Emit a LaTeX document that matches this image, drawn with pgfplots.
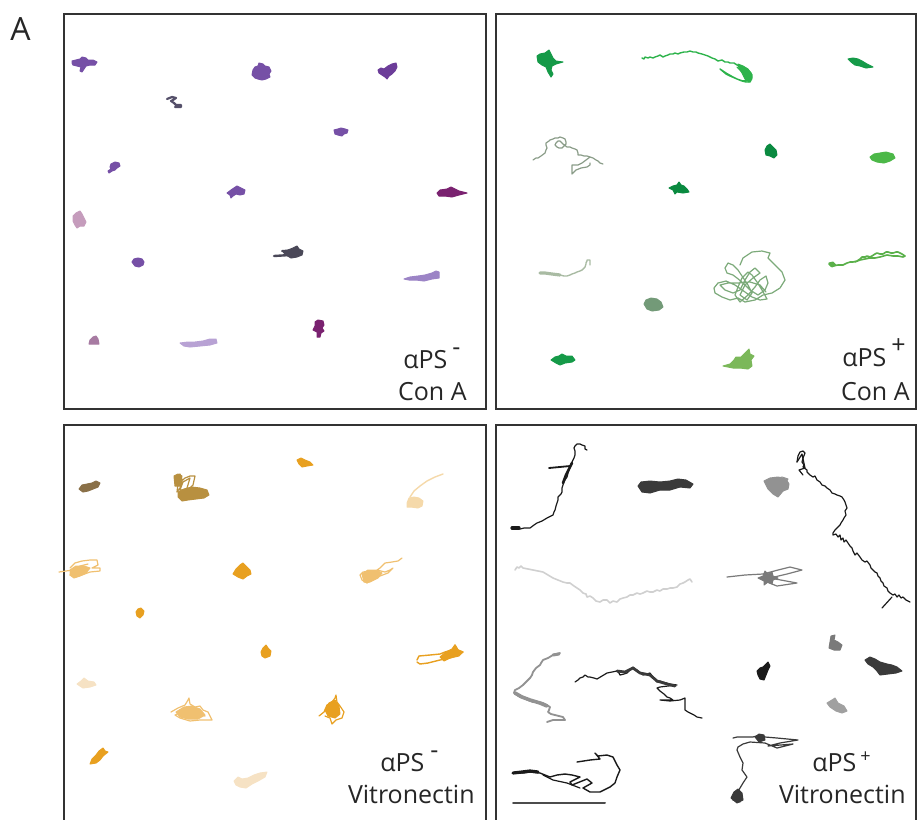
\documentclass[border=0pt]{standalone}
\usepackage{pgfplots}
\pgfplotsset{compat=1.18}
\usepackage{fontspec}
\setmainfont{Open Sans}
% colours
\definecolor{pm}{HTML}{7650A6}
\definecolor{pd}{HTML}{6C3D99}
\definecolor{pg}{HTML}{55506A}
\definecolor{mg}{HTML}{7A2270}
\definecolor{pk}{HTML}{C59CBC}
\definecolor{dg}{HTML}{4A4858}
\definecolor{ll}{HTML}{9C84C6}
\definecolor{mv}{HTML}{A77BA2}
\definecolor{lx}{HTML}{B8A2D4}
\definecolor{gd}{HTML}{159A48}
\definecolor{gb}{HTML}{2DB34B}
\definecolor{gg}{HTML}{8A9C88}
\definecolor{gk}{HTML}{0A8A40}
\definecolor{gm}{HTML}{4CB848}
\definecolor{gl}{HTML}{A9BBA3}
\definecolor{gt}{HTML}{7CAA7A}
\definecolor{gn}{HTML}{5AB04A}
\definecolor{gs}{HTML}{739A78}
\definecolor{gy}{HTML}{7BB85A}
\definecolor{ob}{HTML}{8A7048}
\definecolor{ot}{HTML}{B89040}
\definecolor{oo}{HTML}{E8A020}
\definecolor{op}{HTML}{F5D9AA}
\definecolor{ol}{HTML}{F0C070}
\definecolor{ov}{HTML}{F6E2C4}
\definecolor{k1}{HTML}{1A1A1A}
\definecolor{k2}{HTML}{3A3A3A}
\definecolor{k3}{HTML}{929292}
\definecolor{k4}{HTML}{D0D0D0}
\definecolor{k5}{HTML}{7A7A7A}
\definecolor{k6}{HTML}{A0A0A0}
\newcommand{\trk}[3][0.5pt]{\addplot[line width=#1,color=#2,mark=none,line join=round,line cap=round] coordinates {#3};}
\newcommand{\blob}[2]{\addplot[fill=#1,draw=#1,line width=0.5pt,mark=none,line join=round] coordinates {#2} -- cycle;}
\pgfplotsset{panel/.style={scale only axis, y dir=reverse, xtick=\empty, ytick=\empty,
  axis line style={draw=black!80, line width=0.6pt}, anchor=north west, clip=false}}
\tikzset{lab/.style={font=\fontsize{12.5}{15}\selectfont, inner sep=0pt, text=black!85}}
\begin{document}
\begin{tikzpicture}
\path[use as bounding box, clip] (0,0) rectangle (458.5pt,-410pt);
\node[anchor=base west, inner sep=0pt, font=\fontsize{16}{18}\selectfont, text=black!85] at (5pt,-20pt) {A};
% ---------------- panel 1 ----------------
\begin{axis}[panel, at={(32pt,-7pt)}, width=211pt, height=197.5pt, xmin=64, xmax=486, ymin=14, ymax=409]
\blob{pm}{(72,61)(76,60)(80,59)(82,57)(86,58)(88,60)(93,60)(97,62)(95,65)(90,65)(86,66)(84,69)(82,72)(80,71)(81,67)(77,66)(73,65)(72,63)}
\blob{pm}{(253,70)(255,67)(258,66)(259,63)(263,64)(265,66)(269,67)(271,71)(269,74)(270,77)(266,79)(262,80)(258,79)(255,78)(252,75)}
\blob{pd}{(378,70)(381,68)(384,69)(388,66)(392,64)(396,63)(397,67)(395,71)(392,74)(389,76)(387,79)(385,77)(382,75)(379,73)}
\trk[1.1pt]{pg}{(167,99)(172,97)(176,98)(173,100)(171,101)(174,103)(176,105)(181,105)(181,107)(175,107)}
\blob{pm}{(334,130)(338,129)(341,128)(345,129)(348,130)(347,133)(344,134)(342,136)(338,135)(335,134)}
\blob{pm}{(110,167)(111,164)(115,162)(119,163)(120,166)(117,168)(115,170)(112,171)(109,173)(108,171)(111,169)}
\blob{pm}{(227,193)(231,190)(234,188)(237,186)(241,188)(245,190)(244,194)(240,195)(236,194)(233,196)(231,198)(230,195)}
\blob{mg}{(437,193)(440,190)(447,189)(451,187)(455,189)(459,191)(467,193)(459,195)(452,197)(445,196)(439,196)}
\blob{pk}{(73,216)(76,213)(80,211)(82,214)(84,218)(86,222)(84,226)(80,226)(77,228)(75,225)(73,221)}
\blob{dg}{(283,252)(288,250)(293,248)(297,246)(299,249)(303,251)(302,255)(297,257)(291,258)(286,255)}
\trk[1.2pt]{dg}{(274,256)(290,255)}
\trk[1pt]{dg}{(282,251)(294,250)}
\blob{pm}{(132,262)(134,259)(138,258)(142,259)(144,262)(143,265)(139,267)(135,266)}
\blob{ll}{(404,279)(410,277)(418,276)(425,275)(432,273)(436,271)(439,272)(439,278)(432,279)(424,281)(416,280)(409,280)}
\blob{mg}{(315,322)(318,320)(323,321)(324,325)(322,328)(324,331)(321,333)(320,337)(317,337)(317,332)(313,330)(315,326)}
\blob{mv}{(89,344)(90,340)(93,337)(96,336)(98,339)(99,344)}
\blob{lx}{(180,343)(188,342)(195,342)(203,341)(210,339)(216,339)(217,343)(210,345)(200,346)(190,347)(184,346)}
\node[lab, anchor=base west] at (axis cs:403,368) {αPS};
\node[lab, anchor=base west] at (axis cs:452,355) {-};
\node[lab, anchor=base east] at (axis cs:467,400) {Con A};
\end{axis}
% ---------------- panel 2 ----------------
\begin{axis}[panel, at={(248pt,-7pt)}, width=210pt, height=197.5pt, xmin=496, xmax=916, ymin=14, ymax=409]
\blob{gd}{(537,56)(540,54)(545,53)(549,50)(551,54)(553,58)(556,61)(563,62)(556,64)(552,66)(551,70)(553,74)(551,77)(548,72)(546,67)(542,65)(538,62)}
\trk[0.7pt]{gb}{(642,58)(644,59)(645,57)(648,58)(650,57)(653,58)(655,57)(658,56)(660,55)(663,57)(665,56)(668,55)(670,54)(673,54)(675,53)(678,54)(680,53)(684,52)(687,52)(690,51)(693,52)(696,52)(698,53)(702,54)(705,55)(708,56)(712,58)(715,59)(718,61)(722,60)(725,62)(728,62)(730,63)(734,63)(737,65)(741,66)(745,68)(748,70)(750,72)(752,75)(752,77)(751,80)(750,82)(746,82)(742,81)(737,79)(733,77)(726,73)(720,69)(726,74)(730,76)(737,79)(743,81)(748,80)(745,76)(743,73)(740,70)(737,67)}
\blob{gb}{(738,64)(743,66)(748,69)(751,73)(752,79)(749,82)(745,79)(742,73)(739,68)}
\blob{gd}{(848,59)(853,58)(858,59)(862,61)(867,64)(873,67)(866,68)(860,66)(855,65)(851,62)}
\trk[0.6pt]{gg}{(533,160)(536,158)(538,158)(541,156)(545,153)(546,150)(547,148)(546,145)(546,143)(549,141)(550,140)(553,139)(555,138)(558,138)(560,137)(563,138)(565,139)(566,142)(566,144)(563,147)(562,148)(559,148)(557,147)(555,145)(556,143)(558,141)(560,141)(563,144)(567,147)(570,147)(572,148)(575,149)(577,150)(578,153)(578,155)(581,155)(584,156)(587,156)(590,157)(593,158)(596,160)(598,161)(600,163)(603,164)}
\trk[0.6pt]{gg}{(590,157)(586,160)(582,163)(578,165)(575,165)(572,165)(572,170)(572,174)(574,172)(576,170)(581,168)(587,167)(590,165)(590,163)}
\blob{gk}{(765,150)(767,146)(770,144)(773,147)(776,150)(777,155)(774,158)(770,156)(766,155)}
\blob{gm}{(870,157)(874,154)(880,153)(886,152)(893,154)(895,158)(890,161)(884,163)(877,162)(872,160)}
\blob{gk}{(669,188)(673,186)(677,185)(679,182)(681,185)(684,186)(687,189)(689,192)(683,193)(677,192)(675,194)(673,190)}
\trk[1.6pt]{gl}{(540,273)(545,273)(552,274)(560,275)}
\trk[0.7pt]{gl}{(560,275)(564,276)(567,276)(570,275)(572,274)(575,273)(577,272)(580,271)(582,270)(584,268)(585,267)(586,264)(586,263)(587,261)(587,260)(590,260)(590,265)}
\trk[0.6pt]{gt}{(740,265)(743,258)(752,252)(762,251)(770,253)(768,258)(775,265)(782,272)(785,280)(780,288)(772,293)(763,295)(755,300)(745,302)(738,298)(730,300)(722,297)(715,293)(714,288)(718,283)(726,281)(735,285)(745,292)(752,297)(760,300)(767,299)(762,290)(757,282)(752,275)(748,272)(742,278)(738,287)(735,295)(740,302)(748,295)(755,287)(760,280)(766,276)(768,283)(765,290)(758,295)(750,290)(743,283)(737,278)(733,275)(727,273)(725,268)(728,263)(733,265)(738,270)(742,276)(748,285)(752,293)(747,300)(740,295)(745,285)(753,278)(760,273)(755,268)(750,272)(745,280)(740,290)(733,293)(725,290)(720,285)(728,283)(738,283)(750,282)(760,285)(766,292)}
\trk[0.8pt]{gn}{(829,264)(831,266)(833,266)(838,265)(843,265)(847,263)(850,262)(853,262)(857,261)(860,259)(862,257)(865,257)(867,256)(870,257)(872,256)(875,254)(877,253)(880,254)(883,254)(886,252)(888,252)(891,253)(893,253)(896,252)(898,252)(902,254)(905,256)(903,257)(898,256)(893,256)(887,255)(880,257)(875,258)(870,258)(865,259)(860,260)(855,262)}
\blob{gn}{(829,263)(833,262)(836,265)(832,267)}
\blob{gs}{(644,304)(646,300)(651,298)(657,299)(661,302)(663,307)(659,310)(652,311)(647,309)}
\blob{gd}{(551,360)(555,357)(559,356)(562,354)(566,356)(572,356)(575,360)(572,362)(565,363)(560,365)(556,363)}
\blob{gy}{(723,366)(730,364)(734,360)(736,357)(741,357)(746,352)(749,349)(750,354)(754,356)(751,360)(752,366)(748,369)(740,368)(733,368)}
\node[lab, anchor=base west] at (axis cs:842,366) {αPS};
\node[lab, anchor=base west] at (axis cs:891,353) {+};
\node[lab, anchor=base east] at (axis cs:910,400) {Con A};
\end{axis}
% ---------------- panel 3 ----------------
\begin{axis}[panel, at={(32pt,-212.5pt)}, width=211pt, height=202.5pt, xmin=64, xmax=486, ymin=425, ymax=830]
\blob{ob}{(79,489)(82,485)(87,484)(92,483)(96,481)(100,483)(98,487)(93,489)(88,491)(83,492)}
\trk[0.6pt]{ot}{(175,478)(180,474)(182,480)(180,488)(177,492)(178,484)(185,478)(190,476)(195,476)(193,485)(188,490)(180,490)(183,482)(190,478)(187,488)}
\blob{ot}{(178,492)(184,489)(192,487)(200,488)(207,490)(209,495)(204,498)(196,499)(188,500)(182,501)(178,497)}
\blob{ot}{(174,476)(178,474)(182,476)(180,486)(175,486)}
\blob{oo}{(297,460)(301,458)(305,460)(310,462)(313,465)(307,466)(302,467)(299,464)}
\trk[0.7pt]{op}{(443,474)(435,477)(427,481)(420,486)(414,491)(410,497)}
\blob{op}{(407,503)(409,498)(414,497)(419,498)(423,501)(422,506)(418,508)(411,507)(407,507)}
\trk[0.6pt]{ol}{(59,572)(73,570)}
\trk[0.6pt]{ol}{(70,568)(75,563)(82,561)(90,560)(97,560)(98,565)(92,568)(100,568)(100,571)(90,572)(82,575)(75,577)(70,575)(73,571)(80,566)(88,564)}
\blob{ol}{(70,570)(76,566)(84,566)(90,568)(86,573)(80,576)(74,578)(70,575)}
\blob{oo}{(233,574)(236,569)(240,565)(243,563)(246,566)(250,570)(251,574)(247,576)(243,579)(238,577)}
\trk[0.6pt]{ol}{(402,558)(398,561)(392,562)(385,563)(380,568)(377,570)(385,572)(390,570)(393,568)(388,573)(380,576)(372,580)(367,583)(362,580)(360,575)(363,572)(370,571)(375,575)}
\blob{ol}{(362,574)(368,570)(376,570)(382,573)(378,578)(370,582)(364,582)}
\blob{oo}{(136,612)(138,609)(141,608)(144,611)(143,615)(140,618)(137,616)}
\blob{oo}{(261,652)(263,648)(266,645)(268,648)(271,651)(270,656)(265,658)(262,656)}
\trk[0.7pt]{oo}{(417,660)(419,656)(430,655)(440,654)(445,652)(452,650)(455,645)(458,650)(463,652)(458,655)(450,658)(440,660)(428,663)(420,664)(417,662)}
\blob{oo}{(440,657)(446,652)(452,649)(455,645)(458,650)(463,652)(459,656)(450,658)(444,661)}
\blob{ov}{(77,684)(81,681)(84,678)(88,681)(94,682)(96,685)(90,687)(83,688)}
\trk[0.6pt]{ol}{(171,712)(178,708)(185,705)(188,700)(189,698)(190,704)(195,707)(200,706)(203,710)(208,712)(212,720)(200,720)(190,721)(180,718)(175,715)(182,712)(190,710)(197,714)(205,716)(198,710)(188,714)}
\blob{ol}{(176,712)(184,707)(192,706)(200,709)(205,715)(198,719)(188,719)(180,717)}
\trk[0.6pt]{oo}{(319,716)(324,712)(327,705)(332,702)(335,698)(336,695)(337,702)(340,706)(344,712)(342,718)(336,720)(332,724)(330,718)(325,716)}
\blob{oo}{(325,710)(329,703)(335,700)(339,706)(340,714)(335,718)(328,716)}
\blob{oo}{(90,764)(92,759)(96,755)(99,751)(103,748)(105,751)(108,752)(103,756)(100,760)(96,763)}
\blob{ov}{(234,781)(238,777)(242,779)(248,778)(254,775)(260,773)(267,772)(265,777)(258,781)(252,784)(246,788)(240,787)(236,785)}
\node[lab, anchor=base west] at (axis cs:380,771) {αPS};
\node[lab, anchor=base west] at (axis cs:430,758) {-};
\node[lab, anchor=base east] at (axis cs:475,803) {Vitronectin};
\end{axis}
% ---------------- panel 4 ----------------
\begin{axis}[panel, at={(248pt,-212.5pt)}, width=210pt, height=202.5pt, xmin=496, xmax=916, ymin=425, ymax=830]
\trk[0.6pt]{k1}{(513,528)(517,527)(520,529)(524,528)(530,528)(534,525)(537,523)(542,521)(547,518)(551,516)(553,515)(554,512)(555,510)(556,506)(557,503)(558,500)(558,497)(561,494)(562,492)(562,488)(563,485)(564,482)(565,480)(567,477)(568,473)(569,470)(570,467)(571,464)(572,462)(574,458)(575,455)(575,451)(574,448)(575,446)(577,444)(580,444)(582,445)(585,446)(585,449)(587,450)}
\trk[1.3pt]{k1}{(563,483)(566,475)(570,467)(572,463)}
\trk[1.6pt]{k1}{(512,528)(519,528)}
\trk[0.9pt]{k1}{(549,468)(570,466)}
\blob{k2}{(638,486)(641,482)(650,481)(660,482)(670,481)(678,479)(686,480)(693,484)(690,488)(680,487)(670,490)(660,490)(650,493)(642,492)}
\blob{k3}{(764,481)(770,478)(778,477)(786,479)(789,484)(788,489)(783,491)(778,497)(773,494)(768,489)(766,485)}
\trk[0.5pt]{k3}{(776,479)(782,477)(788,479)(786,482)(778,481)}
\trk[0.6pt]{k1}{(797,462)(798,456)(800,452)(803,451)(805,453)(803,458)(802,462)(804,465)(803,467)(807,470)(807,472)(810,475)(813,477)(815,476)(817,480)(820,482)(822,485)(825,486)(827,488)(830,490)(832,493)(835,494)(837,495)(840,496)(842,497)(844,500)(845,502)(846,505)(847,508)(845,511)(846,515)(844,518)(843,520)(841,523)(840,525)(837,528)(835,530)(833,533)(833,535)(836,534)(838,537)(840,535)(841,540)(843,538)(844,542)(846,540)(848,543)(850,546)(852,548)(853,551)(855,555)(857,553)(860,557)(862,560)(865,562)(867,561)(870,565)(871,568)(873,570)(875,572)(877,573)(878,576)(880,578)(881,581)(883,583)(884,586)(887,588)(888,591)(890,593)(893,595)(895,594)(897,597)(899,595)(901,598)(903,597)(906,600)(910,602)}
\trk[0.6pt]{k1}{(892,597)(882,608)}
\trk[0.6pt]{k1}{(797,462)(802,454)(805,468)(799,470)(803,475)}
\trk[0.8pt]{k4}{(515,570)(517,567)(519,568)(521,566)(523,568)(528,569)(533,570)(538,571)(543,572)(548,575)(553,578)(558,580)(563,582)(567,583)(570,583)(574,586)(577,588)(580,590)(583,593)(586,594)(587,597)(590,596)(593,598)(596,601)(600,602)(603,600)(607,600)(610,603)(613,601)(617,602)(620,599)(623,598)(627,597)(630,595)(633,595)(637,593)(640,594)(643,593)(647,591)(650,592)(653,592)(657,590)(660,591)(663,589)(667,589)(670,588)(673,588)(677,587)(680,584)(683,583)(685,582)(688,580)(690,579)(692,582)}
\trk[0.6pt]{k5}{(727,577)(745,575)(763,574)(778,570)(790,567)(802,570)(787,574)(770,578)(797,583)(777,586)(767,582)}
\blob{k5}{(758,578)(763,576)(765,571)(768,574)(772,572)(773,576)(778,578)(773,580)(772,584)(768,582)(764,585)(764,581)}
\trk[0.9pt]{k3}{(560,653)(556,654)(553,655)(548,658)(543,660)(541,663)(540,665)(536,668)(533,672)(532,675)(530,678)(527,681)(523,685)(519,688)(515,690)(514,693)(517,695)(520,697)(523,698)(528,700)(533,702)(538,702)(543,703)(547,705)(550,707)(549,710)(548,712)(551,714)(555,715)(559,716)(563,717)(565,720)(559,720)(553,720)(547,722)}
\trk[1.8pt]{k3}{(515,693)(522,697)(530,700)(540,703)(547,706)}
\trk[1.5pt]{k3}{(553,655)(559,654)}
\trk[0.6pt]{k1}{(575,682)(578,680)(580,678)(583,677)(585,675)(588,677)(590,677)(594,678)(597,679)(602,676)(607,673)(612,672)(617,671)(619,673)(620,675)(624,674)(627,673)(630,670)(633,667)(635,669)(637,670)(640,673)(643,675)(647,674)(650,673)(653,677)(657,682)(660,681)(663,682)(670,684)(677,685)(668,686)(660,687)(657,688)(660,691)(664,694)(667,697)(670,698)(673,700)(667,700)(660,700)(670,701)(680,700)(685,698)(685,703)(685,710)(688,712)(690,713)(694,715)(697,717)(702,718)}
\trk[1.4pt]{k2}{(617,671)(625,672)(633,668)(640,673)(650,675)(657,681)(667,684)(675,686)}
\blob{k1}{(757,671)(760,668)(763,667)(766,664)(768,662)(770,666)(768,670)(766,675)(764,680)(760,679)(758,675)}
\blob{k5}{(831,636)(835,635)(834,640)(838,642)(842,645)(840,650)(834,650)(829,648)(830,642)}
\blob{k2}{(865,660)(870,657)(875,659)(880,662)(887,664)(892,665)(897,667)(902,671)(896,673)(888,674)(880,675)(877,671)(873,667)(868,664)}
\blob{k6}{(827,703)(832,700)(835,698)(838,703)(844,706)(847,711)(842,713)(836,711)(830,707)}
\trk[0.7pt]{k1}{(513,773)(523,773)(530,772)(540,773)(550,777)(557,775)(565,774)(572,775)(580,777)(570,782)(572,785)(587,779)(592,783)(583,788)(590,792)(600,792)(610,787)(615,783)(617,777)(620,770)(617,765)(613,757)(607,755)(598,756)(595,753)(600,759)(590,760)(577,762)}
\trk[0.6pt]{k1}{(543,775)(553,780)(567,783)(580,788)}
\trk[1.6pt]{k1}{(513,773)(522,772)(530,771)(538,772)}
\trk[0.6pt]{k2}{(733,738)(737,737)(753,737)(760,735)(765,737)(777,738)(798,740)(780,743)(768,746)(793,744)(777,748)(765,743)(750,742)(743,744)(738,747)(737,750)(740,757)(743,763)(742,770)(747,777)(743,783)(737,793)(733,800)(740,802)}
\blob{k2}{(755,737)(759,734)(764,735)(765,740)(759,742)}
\blob{k2}{(731,798)(734,792)(738,789)(742,793)(743,800)(737,803)}
\trk[1pt]{black!70}{(513,803)(605,803)}
\node[lab, anchor=base west] at (axis cs:812,771) {αPS};
\node[lab, anchor=base west, font=\fontsize{9}{11}\selectfont] at (axis cs:860,762) {+};
\node[lab, anchor=base east] at (axis cs:906,803) {Vitronectin};
\end{axis}
\end{tikzpicture}
\end{document}
